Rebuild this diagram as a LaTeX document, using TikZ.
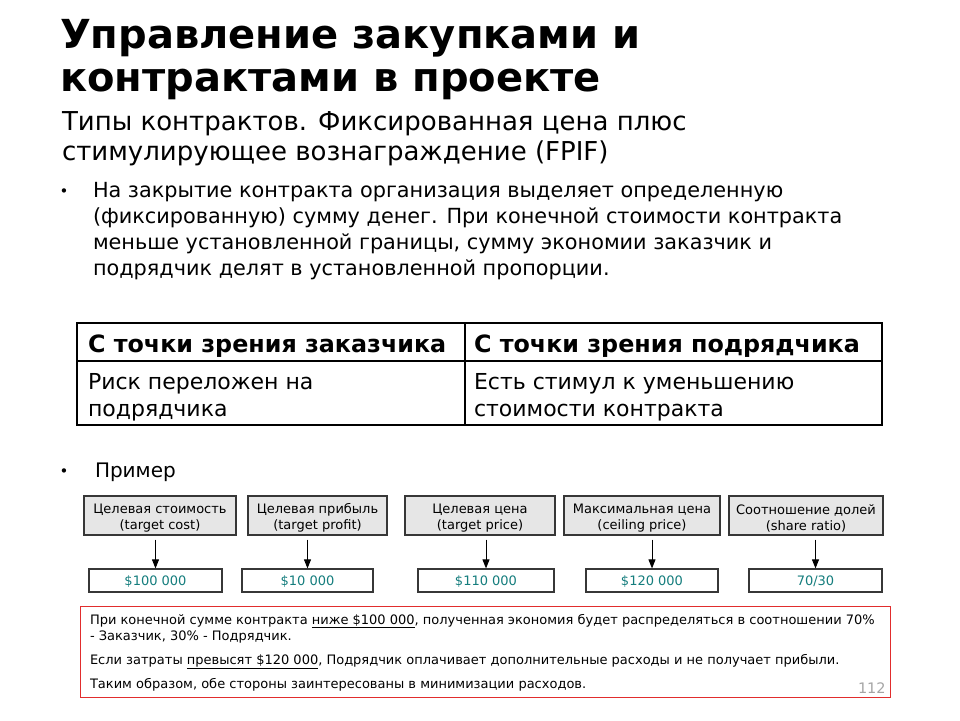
\documentclass[tikz,border=0pt]{standalone}
\usepackage{fontspec}
\setmainfont{DejaVu Sans}
\usetikzlibrary{arrows.meta}
\definecolor{valcol}{RGB}{20,125,125}
\definecolor{boxfill}{RGB}{230,230,230}
\definecolor{boxline}{RGB}{55,55,55}
\definecolor{notered}{RGB}{225,45,45}
\definecolor{pagegray}{RGB}{165,165,165}
\newcommand{\topstrut}{\rule{0pt}{15.5pt}}
\newcommand{\valstrut}{\rule{0pt}{12pt}}
\tikzset{
  txt/.style={anchor=base west, inner sep=0pt, outer sep=0pt},
  ttl/.style={txt, font=\fontsize{40}{40}\selectfont\bfseries},
  sub/.style={txt, font=\fontsize{26}{26}\selectfont},
  body/.style={txt, font=\fontsize{20.8}{20.8}\selectfont},
  cell/.style={txt, font=\fontsize{22}{22}\selectfont},
  hdr/.style={txt, font=\fontsize{23.8}{23.8}\selectfont\bfseries},
  small/.style={txt, font=\fontsize{13}{13}\selectfont},
  bul/.style={anchor=base, inner sep=0pt, font=\fontsize{15}{15}\selectfont},
  topbox/.style={draw=boxline, line width=1.2pt, fill=boxfill, align=center,
    minimum height=39pt, inner sep=0pt, font=\fontsize{13}{16}\selectfont},
  valbox/.style={draw=boxline, line width=1.2pt, fill=white,
    minimum height=23pt, inner sep=0pt, text=valcol, font=\fontsize{13}{13}\selectfont},
  arr/.style={line width=0.9pt, -{Triangle[width=7pt,length=9pt]}, shorten <=4pt},
  tbl/.style={line width=1.3pt, black}
}
\begin{document}
\begin{tikzpicture}[x=1pt,y=-1pt]
\useasboundingbox (0,0) rectangle (960,720);
% title
\node[ttl] (title1) at (60,48) {Управление закупками и};
\node[ttl] (title2) at (60,91) {контрактами в проекте};
\node[sub] (sub1) at (62,130) {Типы контрактов. Фиксированная цена плюс};
\node[sub] (sub2) at (62,160) {стимулирующее вознаграждение (FPIF)};
% bullet 1
\node[bul] (bu1) at (64,196) {•};
\node[body] (p1) at (93,197) {На закрытие контракта организация выделяет определенную};
\node[body] (p2) at (93,223) {(фиксированную) сумму денег. При конечной стоимости контракта};
\node[body] (p3) at (93,249) {меньше установленной границы, сумму экономии заказчик и};
\node[body] (p4) at (93,275) {подрядчик делят в установленной пропорции.};
% table
\draw[tbl] (77,323) rectangle (882,425);
\draw[tbl] (77,361) -- (882,361);
\draw[tbl] (465,323) -- (465,425);
\node[hdr] (h1) at (88,352) {С точки зрения заказчика};
\node[hdr] (h2) at (474,352) {С точки зрения подрядчика};
\node[cell] (c11) at (88,389) {Риск переложен на};
\node[cell] (c12) at (88,416) {подрядчика};
\node[cell] (c21) at (474,389) {Есть стимул к уменьшению};
\node[cell] (c22) at (474,416) {стоимости контракта};
% bullet 2
\node[bul] (bu2) at (64,476) {•};
\node[txt, font=\fontsize{20}{20}\selectfont] (ex) at (95,477) {Пример};
% boxes
\node[topbox, minimum width=152pt] (tb1) at (160,515.5) {\topstrut Целевая стоимость\\(target cost)};
\node[topbox, minimum width=139pt] (tb2) at (317.5,515.5) {\topstrut Целевая прибыль\\(target profit)};
\node[topbox, minimum width=150pt] (tb3) at (480,515.5) {\topstrut Целевая цена\\(target price)};
\node[topbox, minimum width=156pt] (tb4) at (642,515.5) {\topstrut Максимальная цена\\(ceiling price)};
\node[topbox, minimum width=154pt] (tb5) at (806,515.5) {\topstrut Соотношение долей\\(share ratio)};
\node[valbox, minimum width=133pt] (vb1) at (155.5,580.5) {\valstrut\$100 000};
\node[valbox, minimum width=131pt] (vb2) at (307.5,580.5) {\valstrut\$10 000};
\node[valbox, minimum width=136pt] (vb3) at (486,580.5) {\valstrut\$110 000};
\node[valbox, minimum width=132pt] (vb4) at (652,580.5) {\valstrut\$120 000};
\node[valbox, minimum width=133pt] (vb5) at (815.5,580.5) {\valstrut 70/30};
\foreach \i in {1,...,5}{
  \draw[arr] (tb\i.south -| vb\i.north) -- (vb\i.north);
}
% note
\node[draw=notered, line width=0.9pt, minimum width=810pt, minimum height=91pt,
  anchor=north west, inner sep=0pt] (note) at (80,606) {};
\node[small] (n1) at (90,624) {При конечной сумме контракта \underline{ниже \$100 000}, полученная экономия будет распределяться в соотношении 70\%};
\node[small] (n2) at (90,640) {- Заказчик, 30\% - Подрядчик.};
\node[small] (n3) at (90,664) {Если затраты \underline{превысят \$120 000}, Подрядчик оплачивает дополнительные расходы и не получает прибыли.};
\node[small] (n4) at (90,688) {Таким образом, обе стороны заинтересованы в минимизации расходов.};
\node[txt, font=\fontsize{14.5}{14.5}\selectfont, text=pagegray] (pg) at (858,693) {112};
\end{tikzpicture}
\end{document}
